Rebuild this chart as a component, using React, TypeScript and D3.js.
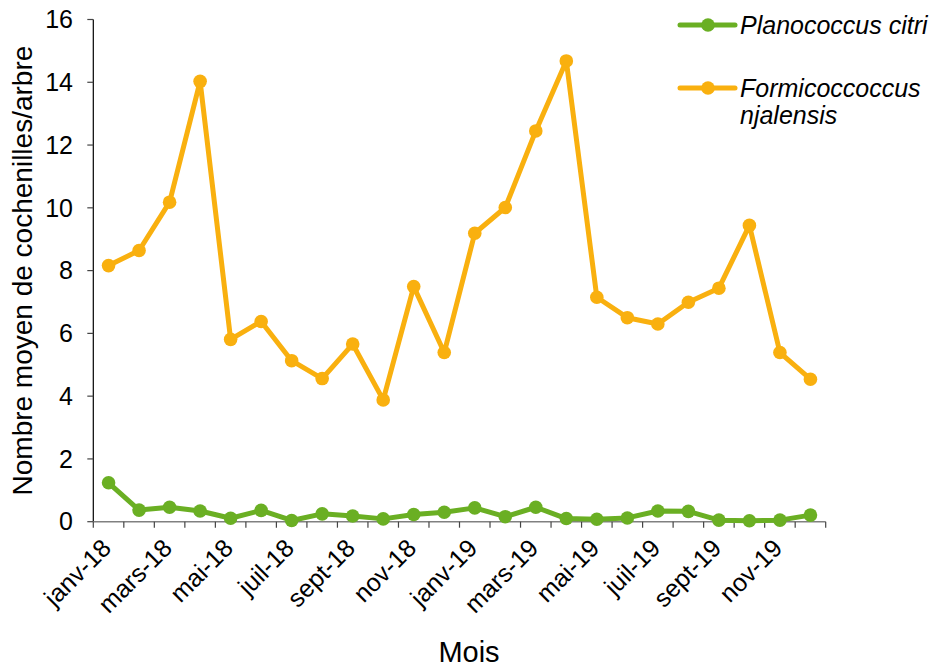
import React from "react";
import * as d3 from "d3";

const months = ["janv-18","févr-18","mars-18","avr-18","mai-18","juin-18","juil-18","août-18","sept-18","oct-18","nov-18","déc-18","janv-19","févr-19","mars-19","avr-19","mai-19","juin-19","juil-19","août-19","sept-19","oct-19","nov-19","déc-19"];
const planococcus = [1.24,0.37,0.46,0.34,0.11,0.36,0.04,0.25,0.18,0.09,0.23,0.30,0.44,0.16,0.46,0.10,0.08,0.12,0.34,0.33,0.05,0.03,0.05,0.21];
const formicococcus = [8.16,8.64,10.18,14.03,5.81,6.38,5.13,4.56,5.66,3.88,7.49,5.39,9.19,10.01,12.45,14.68,7.15,6.50,6.30,6.99,7.44,9.44,5.39,4.54];
const yTicks = [0,2,4,6,8,10,12,14,16];
const seriesNames = [["Planococcus citri"], ["Formicoccoccus", "njalensis"]];

const GREEN = "#6AAF23";
const ORANGE = "#F9B00F";
const FONT = "'Liberation Sans', Arial, sans-serif";

export default function App() {
  const W = 944, H = 668;
  const left = 93.3, right = 825.7, top = 19.5, bottom = 521.7;
  const x = d3.scaleBand<string>().domain(months).range([left, right]);
  const y = d3.scaleLinear().domain([0, 16]).range([bottom, top]);
  const cx = (m: string) => (x(m) as number) + x.bandwidth() / 2;
  const line = d3.line<number>().x((_, i) => cx(months[i])).y((d) => y(d));
  const series = [
    { vals: planococcus, color: GREEN },
    { vals: formicococcus, color: ORANGE },
  ];
  const boundaries = months.map((m) => x(m) as number).concat([right]);

  return (
    <svg width={W} height={H} style={{ position: "absolute", left: 0, top: 0, background: "#fff" }} fontFamily={FONT}>
      {/* y axis */}
      <line x1={left} x2={left} y1={top} y2={bottom} stroke="#000" strokeWidth={1.2} />
      {yTicks.map((t) => (
        <g key={t}>
          <line x1={left - 6} x2={left} y1={y(t)} y2={y(t)} stroke="#444" strokeWidth={1.2} />
          <text x={73} y={y(t)} dy="0.35em" textAnchor="end" fontSize={25} fill="#000">{t}</text>
        </g>
      ))}
      {/* x axis */}
      <line x1={left} x2={right} y1={bottom} y2={bottom} stroke="#808080" strokeWidth={1.5} />
      {boundaries.map((b, i) => (
        <line key={i} x1={b} x2={b} y1={bottom} y2={bottom + 6} stroke="#444" strokeWidth={1.2} />
      ))}
      {months.map((m, i) =>
        i % 2 === 0 ? (
          <text key={m} transform={`translate(${cx(m) + 4},${bottom + 28}) rotate(-45)`} textAnchor="end" fontSize={25} fill="#000">{m}</text>
        ) : null
      )}
      {/* titles */}
      <text x={469} y={662} textAnchor="middle" fontSize={29} fill="#000">Mois</text>
      <text transform={`translate(32,${(top + bottom) / 2}) rotate(-90)`} textAnchor="middle" fontSize={28} fill="#000">Nombre moyen de cochenilles/arbre</text>
      {/* series */}
      {series.map((s, k) => (
        <g key={k}>
          <path d={line(s.vals) || ""} fill="none" stroke={s.color} strokeWidth={5} strokeLinejoin="round" />
          {s.vals.map((v, i) => (
            <circle key={i} cx={cx(months[i])} cy={y(v)} r={6.8} fill={s.color} />
          ))}
        </g>
      ))}
      {/* legend */}
      {series.map((s, k) => {
        const ly = k === 0 ? 25 : 88;
        return (
          <g key={k}>
            <line x1={680} x2={735} y1={ly} y2={ly} stroke={s.color} strokeWidth={5} strokeLinecap="round" />
            <circle cx={708} cy={ly} r={6.8} fill={s.color} />
            {seriesNames[k].map((t, j) => (
              <text key={j} x={740} y={ly + 8.5 + j * 27} fontSize={25} fontStyle="italic" fill="#000">{t}</text>
            ))}
          </g>
        );
      })}
    </svg>
  );
}
